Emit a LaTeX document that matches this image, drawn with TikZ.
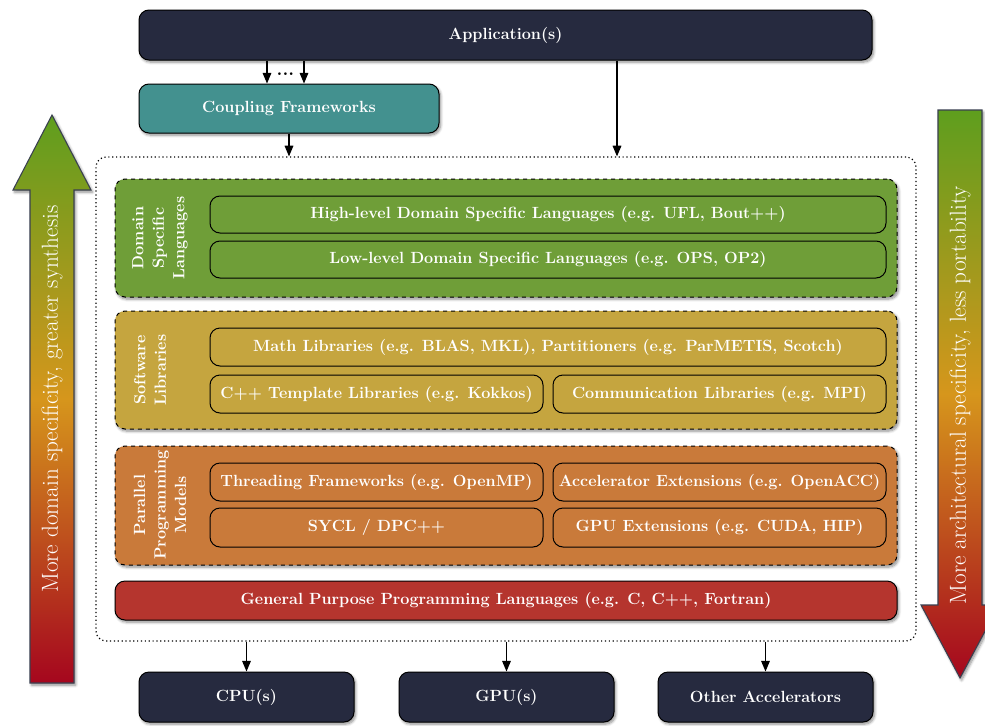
\documentclass[tikz,border=0pt]{standalone}
\usetikzlibrary{fit,shadows.blur,arrows.meta}
\definecolor{navy}{HTML}{262A3F}
\definecolor{tealbox}{HTML}{43918F}
\definecolor{dslgreen}{HTML}{6F9E38}
\definecolor{libgold}{HTML}{C5A53F}
\definecolor{pporange}{HTML}{C97A3A}
\definecolor{gpred}{HTML}{B5352E}
\definecolor{agreen}{HTML}{5E9E1E}
\definecolor{aorange}{HTML}{D6961C}
\definecolor{ared}{HTML}{A5061E}
\definecolor{aborder}{HTML}{3A4050}
\begin{document}
\begin{tikzpicture}[x=0.75pt,y=-0.75pt,
  font=\fontsize{12.15}{15.4}\selectfont\bfseries,
  shad/.style={blur shadow={shadow xshift=1.2pt, shadow yshift=-1.6pt, shadow blur steps=6, shadow opacity=45, shadow blur radius=2pt}},
  topbox/.style={draw=black, line width=0.75pt, rounded corners=7.5pt, text=white, inner sep=0pt, shad},
  grpbox/.style={draw=black, dashed, line width=0.75pt, rounded corners=7.5pt, inner sep=0pt, shad},
  inbox/.style={draw=black, line width=0.75pt, rounded corners=7.5pt, text=white, inner sep=0pt},
  grplabel/.style={rotate=90, align=center, text=white, inner sep=0pt},
  conn/.style={-{Triangle[length=8pt,width=6.5pt]}, line width=0.85pt, draw=black},
  bigarrow/.style={draw=aborder, line width=0.8pt, top color=agreen, bottom color=ared, middle color=aorange, shad},
  arrowtext/.style={rotate=90, text=white, font=\fontsize{17.4}{20}\selectfont\mdseries, inner sep=0pt}
]
\useasboundingbox (0,0) rectangle (985,725);

% big side arrows
\path[bigarrow] (52,115) -- (91,190) -- (74,190) -- (74,683) -- (30,683) -- (30,190) -- (13,190) -- cycle;
\node[arrowtext] (ltxt) at (52,399) {More domain specificity, greater synthesis};
\path[bigarrow] (938,110) -- (982,110) -- (982,605) -- (999,605) -- (960,678) -- (921,605) -- (938,605) -- cycle;
\node[arrowtext] (rtxt) at (960,395) {More architectural specificity, less portability};

% top boxes
\node[topbox, fill=navy, minimum width=549.75pt, minimum height=37.5pt] (app) at (505.5,35) {Application(s)};
\node[topbox, fill=tealbox, minimum width=225pt, minimum height=36.75pt] (coup) at (289,108.5) {Coupling Frameworks};

% container
\node[draw=black, dotted, line width=0.9pt, rounded corners=7.5pt, inner sep=0pt, fit={(96,157) (916,641)}] (cont) {};

% DSL group
\node[grpbox, fill=dslgreen, fit={(115,179) (897,297)}] (dsl) {};
\node[grplabel] (dsllab) at (160,238) {Domain\\Specific\\Languages};
\node[inbox, fill=dslgreen, minimum width=507pt, minimum height=27.75pt] (hl) at (548,214.5) {High-level Domain Specific Languages (e.g. UFL, Bout++)};
\node[inbox, fill=dslgreen, minimum width=507pt, minimum height=27.75pt] (ll) at (548,259.5) {Low-level Domain Specific Languages (e.g. OPS, OP2)};

% Software libraries group
\node[grpbox, fill=libgold, fit={(115,311) (897,429)}] (sl) {};
\node[grplabel] (sllab) at (150,370) {Software\\Libraries};
\node[inbox, fill=libgold, minimum width=507pt, minimum height=28.5pt] (math) at (548,347) {Math Libraries (e.g. BLAS, MKL), Partitioners (e.g. ParMETIS, Scotch)};
\node[inbox, fill=libgold, minimum width=249.75pt, minimum height=28.5pt] (tmpl) at (376.5,394) {C++ Template Libraries (e.g. Kokkos)};
\node[inbox, fill=libgold, minimum width=249.75pt, minimum height=28.5pt] (comm) at (719.5,394) {Communication Libraries (e.g. MPI)};

% Parallel programming models group
\node[grpbox, fill=pporange, fit={(115,446) (897,565)}] (ppm) {};
\node[grplabel] (ppmlab) at (160,505) {Parallel\\Programming\\Models};
\node[inbox, fill=pporange, minimum width=249.75pt, minimum height=28.5pt] (thr) at (376.5,482) {Threading Frameworks (e.g. OpenMP)};
\node[inbox, fill=pporange, minimum width=249.75pt, minimum height=28.5pt] (acc) at (719.5,482) {Accelerator Extensions (e.g. OpenACC)};
\node[inbox, fill=pporange, minimum width=249.75pt, minimum height=29.25pt] (sycl) at (376.5,527.5) {SYCL / DPC++};
\node[inbox, fill=pporange, minimum width=249.75pt, minimum height=29.25pt] (gpuext) at (719.5,527.5) {GPU Extensions (e.g. CUDA, HIP)};

% General purpose
\node[topbox, fill=gpred, minimum width=586.5pt, minimum height=29.25pt] (gp) at (506,600.5) {General Purpose Programming Languages (e.g. C, C++, Fortran)};

% hardware
\node[topbox, fill=navy, minimum width=161.25pt, minimum height=37.5pt] (cpu) at (246.5,697) {CPU(s)};
\node[topbox, fill=navy, minimum width=161.25pt, minimum height=37.5pt] (gpu) at (506.5,697) {GPU(s)};
\node[topbox, fill=navy, minimum width=161.25pt, minimum height=37.5pt] (other) at (765.5,697) {Other Accelerators};

% connectors
\draw[conn] (267,0 |- app.south) -- (267,0 |- coup.north);
\draw[conn] (304,0 |- app.south) -- (304,0 |- coup.north);
\node[inner sep=0pt, anchor=base, font=\fontsize{14}{14}\selectfont\bfseries] (dots) at (285.5,75) {...};
\draw[conn] (coup.south) -- (coup.south |- cont.north);
\draw[conn] (617,0 |- app.south) -- (617,0 |- cont.north);
\draw[conn] (cpu.north |- cont.south) -- (cpu.north);
\draw[conn] (gpu.north |- cont.south) -- (gpu.north);
\draw[conn] (other.north |- cont.south) -- (other.north);
\end{tikzpicture}
\end{document}
